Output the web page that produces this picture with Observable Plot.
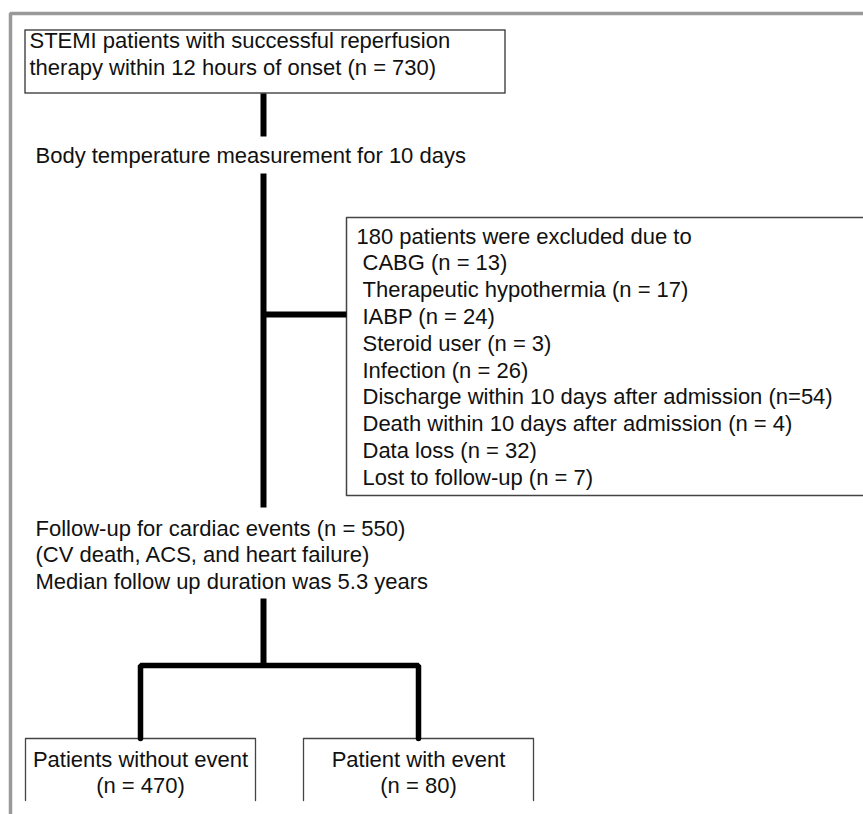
<!DOCTYPE html>
<html>
<head>
<meta charset="utf-8">
<script src="https://cdn.jsdelivr.net/npm/d3@7"></script>
<script src="https://cdn.jsdelivr.net/npm/@observablehq/plot@0.6"></script>
<style>
  html, body { margin: 0; padding: 0; background: #fff; }
  #chart svg { display: block; overflow: hidden; }
</style>
</head>
<body>
<div id="chart"></div>
<script>
// ---- Content (texts and counts) ----
const startLines = ["STEMI patients with successful reperfusion", "therapy within 12 hours of onset (n = 730)"];
const measureLines = ["Body temperature measurement for 10 days"];
const excludedHeader = "180 patients were excluded due to";
const excludedReasons = [
  "CABG (n = 13)",
  "Therapeutic hypothermia (n = 17)",
  "IABP (n = 24)",
  "Steroid user (n = 3)",
  "Infection (n = 26)",
  "Discharge within 10 days after admission (n=54)",
  "Death within 10 days after admission (n = 4)",
  "Data loss (n = 32)",
  "Lost to follow-up (n = 7)"
];
const followLines = ["Follow-up for cardiac events (n = 550)", "(CV death, ACS, and heart failure)", "Median follow up duration was 5.3 years"];
const outcomeNames = ["Patients without event", "Patient with event"];
const outcomeCounts = ["(n = 470)", "(n = 80)"];

// ---- Layout (diagram geometry, in drawing units) ----
const W = 863, H = 814;
const lineGap = 26.8;
const layout = {
  frame: [[10, H], [10, 13], [W, 13]],
  startBox: {x1: 25, x2: 505, y1: 30, y2: 93, textX: 29, base: 47},
  spineX: 263,
  spine: [[93, 136], [173, 507], [598, 665]],
  measure: {x: 35, base: 162},
  branch: {y: 314, x2: 346},
  exclBox: {x1: 346, y1: 217, y2: 495, headX: 356, itemX: 362, base: 243},
  follow: {x: 35, base: 535},
  split: {y: 665, left: 140, right: 418, boxTop: 738},
  outBoxes: [{x1: 25, x2: 255}, {x1: 303, x2: 533}],
  outBottom: 800,
  outBase: 766
};

const font = "'Liberation Sans', Arial, Helvetica, sans-serif";
const fs = 22;
const ink = "#111";

// text rows
const leftTexts = [];
const centerTexts = [];
startLines.forEach((t, i) => leftTexts.push({t, x: layout.startBox.textX, y: layout.startBox.base + i * 27.5}));
measureLines.forEach((t, i) => leftTexts.push({t, x: layout.measure.x, y: layout.measure.base + i * lineGap}));
leftTexts.push({t: excludedHeader, x: layout.exclBox.headX, y: layout.exclBox.base});
excludedReasons.forEach((t, i) => leftTexts.push({t, x: layout.exclBox.itemX, y: layout.exclBox.base + (i + 1) * lineGap}));
followLines.forEach((t, i) => leftTexts.push({t, x: layout.follow.x, y: layout.follow.base + i * 26.6}));
outcomeNames.forEach((t, i) => {
  const b = layout.outBoxes[i];
  const cx = (b.x1 + b.x2) / 2;
  centerTexts.push({t, x: cx, y: layout.outBase});
  centerTexts.push({t: outcomeCounts[i], x: cx, y: layout.outBase + 26});
});

// connectors
const sx = layout.spineX;
const links = layout.spine.map(([a, b]) => ({x1: sx, y1: a, x2: sx, y2: b}));
links.push({x1: sx, y1: layout.branch.y, x2: layout.branch.x2, y2: layout.branch.y});

const sp = layout.split;
const bracket = [
  {x: sp.left, y: sp.boxTop}, {x: sp.left, y: sp.y}, {x: sp.right, y: sp.y}, {x: sp.right, y: sp.boxTop}
];

const frame = layout.frame.map(([x, y]) => ({x, y}));
const eb = layout.exclBox;
const exclOutline = [{x: W + 5, y: eb.y1}, {x: eb.x1, y: eb.y1}, {x: eb.x1, y: eb.y2}, {x: W + 5, y: eb.y2}];
const outOutlines = layout.outBoxes.flatMap((b, i) => [
  {x: b.x1, y: layout.outBottom, k: i}, {x: b.x1, y: sp.boxTop, k: i},
  {x: b.x2, y: sp.boxTop, k: i}, {x: b.x2, y: layout.outBottom, k: i}
]);

const textOpts = {x: "x", y: "y", text: "t", lineAnchor: "bottom", fontSize: fs, fill: ink, fontFamily: font};

const chart = Plot.plot({
  width: W,
  height: H,
  margin: 0,
  x: {domain: [0, W], axis: null},
  y: {domain: [0, H], axis: null, reverse: true},
  style: {fontFamily: font, background: "#fff"},
  marks: [
    Plot.line(frame, {x: "x", y: "y", stroke: "#999", strokeWidth: 3.5, strokeLinejoin: "miter"}),
    Plot.rect([layout.startBox], {x1: "x1", x2: "x2", y1: "y1", y2: "y2", fill: "white", stroke: "#333", strokeWidth: 1.3}),
    Plot.line(exclOutline, {x: "x", y: "y", stroke: "#444", strokeWidth: 1.5}),
    Plot.line(outOutlines, {x: "x", y: "y", z: "k", stroke: "#444", strokeWidth: 1.3}),
    Plot.link(links, {x1: "x1", y1: "y1", x2: "x2", y2: "y2", stroke: "#000", strokeWidth: 6}),
    Plot.line(bracket, {x: "x", y: "y", stroke: "#000", strokeWidth: 5.5, strokeLinejoin: "miter"}),
    Plot.text(leftTexts, {...textOpts, textAnchor: "start"}),
    Plot.text(centerTexts, {...textOpts, textAnchor: "middle"})
  ]
});

document.getElementById("chart").append(chart);
</script>
</body>
</html>
